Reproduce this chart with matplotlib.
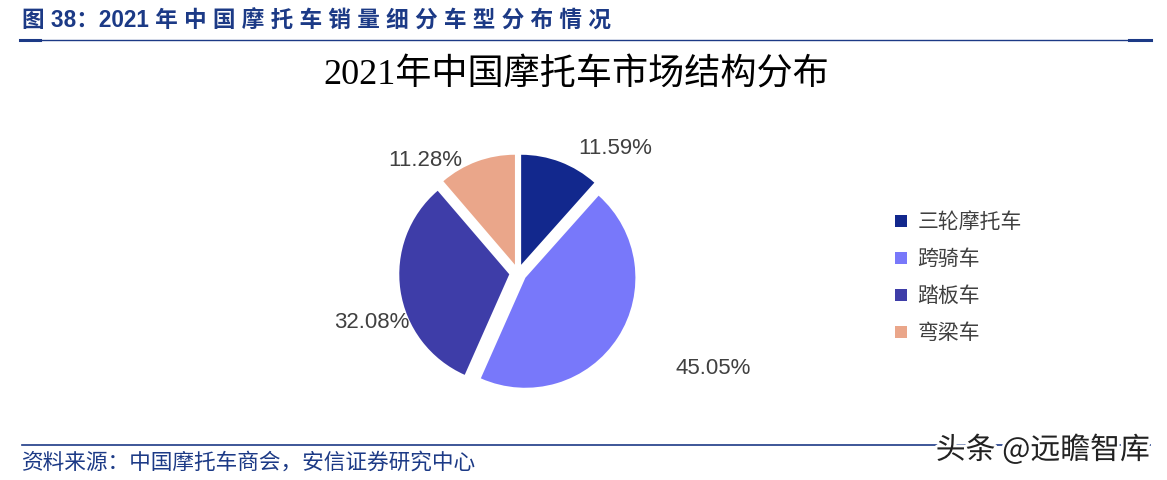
import matplotlib
matplotlib.use('Agg')
from matplotlib import pyplot as plt
import matplotlib.patheffects as pe

plt.rcParams['font.family'] = ['Noto Sans CJK SC', 'DejaVu Sans']

# data
categories = ['三轮摩托车', '跨骑车', '踏板车', '弯梁车']
shares = [11.59, 45.05, 32.08, 11.28]
share_labels = ['11.59%', '45.05%', '32.08%', '11.28%']
colors = ['#12288D', '#7878FA', '#3E3DA8', '#EAA68A']

# label spots (pixel coords, y from top)
label_pos = [(615, 148), (713, 368), (372, 322), (425, 160)]

W, H = 1167, 480
fig = plt.figure(figsize=(W / 100, H / 100), dpi=100)
ax = fig.add_axes([0, 0, 1, 1])

R = 110
wedges, _ = ax.pie(shares, colors=colors, startangle=90, counterclock=False,
                   explode=[0.08 * R] * 4, center=(518, H - 273), radius=R,
                   wedgeprops=dict(linewidth=0))
ax.set_xlim(0, W)
ax.set_ylim(0, H)
ax.axis('off')

for txt, (x, y) in zip(share_labels, label_pos):
    ax.text(x, H - y, txt, ha='center', va='center', fontsize=16,
            color='#404040', family=['Liberation Sans', 'DejaVu Sans'])

# chart title
ax.text(576, H - 75, '2021年中国摩托车市场结构分布', ha='center', va='center',
        fontsize=26, color='black', family=['Liberation Serif', 'Noto Sans CJK SC'])

# header
blue = '#1C3A86'
header = '图 38：2021 ' + ' '.join('年中国摩托车销量细分车型分布情况')
ax.text(22, H - 21, header, ha='left', va='center',
        fontsize=16.3, fontweight='bold', color=blue,
        family=['Liberation Sans', 'Noto Sans CJK SC'])
ax.plot([20, 1151], [H - 40, H - 40], color=blue, lw=1.0)
ax.plot([20, 40], [H - 40, H - 40], color=blue, lw=2.2)
ax.plot([1129, 1151], [H - 40, H - 40], color=blue, lw=2.2)

leg = ax.legend(wedges, categories, loc='upper left', bbox_to_anchor=(887 / W, 1 - 203 / H),
                frameon=False, fontsize=15, handlelength=0.55, handleheight=0.55,
                handletextpad=0.5, labelspacing=0.72, borderaxespad=0)
for t in leg.get_texts():
    t.set_color('#404040')

# footer
ax.plot([22, 1150], [H - 445, H - 445], color=blue, lw=1.2)
ax.text(22, H - 463, '资料来源：中国摩托车商会，安信证券研究中心', ha='left', va='center',
        fontsize=15.6, color=blue, style='italic')
wm = ax.text(1150, H - 450, '头条 @远瞻智库', ha='right', va='center',
             fontsize=21.5, color='#222222')
wm.set_path_effects([pe.withStroke(linewidth=4, foreground='white')])

fig.savefig('out.png', dpi=100)
